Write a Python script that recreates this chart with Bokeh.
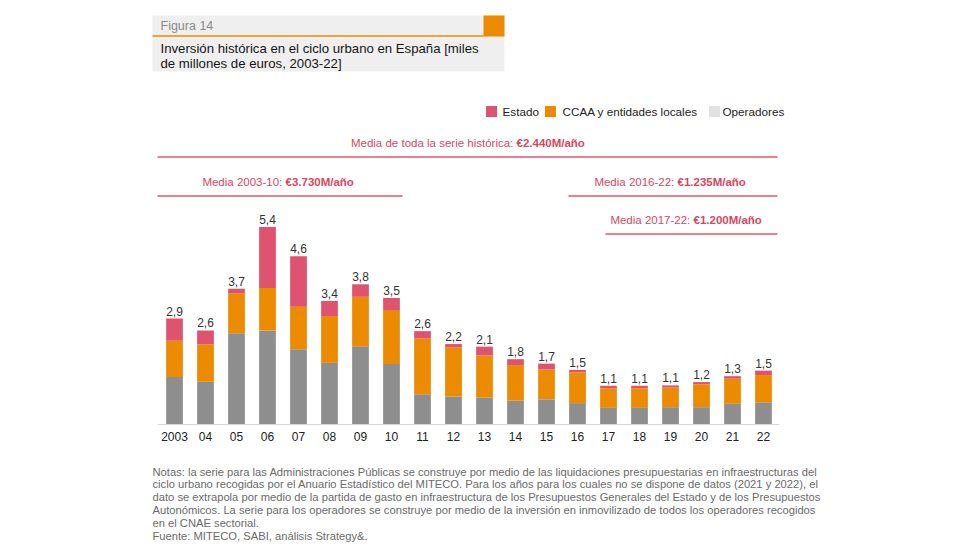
from bokeh.plotting import figure
from bokeh.models import Range1d, ColumnDataSource
from bokeh.core.properties import value
from bokeh.embed import file_html
from bokeh.resources import INLINE

# ---------------- data ----------------
years = ["2003", "04", "05", "06", "07", "08", "09", "10", "11", "12",
         "13", "14", "15", "16", "17", "18", "19", "20", "21", "22"]
operadores = [1.29, 1.16, 2.47, 2.55, 2.04, 1.67, 2.12, 1.64, 0.82, 0.76,
              0.73, 0.65, 0.68, 0.58, 0.45, 0.45, 0.47, 0.47, 0.56, 0.60]
ccaa = [0.98, 1.01, 1.09, 1.15, 1.15, 1.27, 1.34, 1.46, 1.51, 1.33,
        1.14, 0.96, 0.81, 0.83, 0.53, 0.53, 0.53, 0.62, 0.68, 0.74]
estado = [0.60, 0.38, 0.12, 1.65, 1.37, 0.41, 0.34, 0.33, 0.20, 0.09,
          0.24, 0.16, 0.16, 0.07, 0.07, 0.07, 0.06, 0.06, 0.07, 0.12]
total_labels = ["2,9", "2,6", "3,7", "5,4", "4,6", "3,4", "3,8", "3,5", "2,6", "2,2",
                "2,1", "1,8", "1,7", "1,5", "1,1", "1,1", "1,1", "1,2", "1,3", "1,5"]

legend_labels = ["Estado", "CCAA y entidades locales", "Operadores"]
media_labels = ["Media de toda la serie histórica: ", "Media 2003-10: ",
                "Media 2016-22: ", "Media 2017-22: "]
media_values = ["€2.440M/año", "€3.730M/año", "€1.235M/año", "€1.200M/año"]

fig_label = "Figura 14"
title_lines = ["Inversión histórica en el ciclo urbano en España [miles",
               "de millones de euros, 2003-22]"]
notes = [
    "Notas: la serie para las Administraciones Públicas se construye por medio de las liquidaciones presupuestarias en infraestructuras del",
    "ciclo urbano recogidas por el Anuario Estadístico del MITECO. Para los años para los cuales no se dispone de datos (2021 y 2022), el",
    "dato se extrapola por medio de la partida de gasto en infraestructura de los Presupuestos Generales del Estado y de los Presupuestos",
    "Autonómicos. La serie para los operadores se construye por medio de la inversión en inmovilizado de todos los operadores recogidos",
    "en el CNAE sectorial.",
    "Fuente: MITECO, SABI, análisis Strategy&.",
]

# ---------------- styles / layout ----------------
RED = "#de5470"
ORANGE = "#ec8b00"
GRAY = "#8e8e8e"
LEG_GRAY = "#e2e2e2"
PINK_TXT = "#d9475f"
PINK_LINE = "#dc5a6e"
FONT = value("Liberation Sans")

W, H = 964, 544
X0, DX = 174.0, 31.0      # page px of first bar centre, px per category
Y0, DY = 424.0, 36.9      # page px of baseline, px per unit


def X(px):
    return (px - X0) / DX


def Y(py):
    return (Y0 - py) / DY


p = figure(width=W, height=H, output_backend="svg", toolbar_location=None,
           x_range=Range1d(X(0), X(W)), y_range=Range1d(Y(H), Y(0)),
           x_axis_type=None, y_axis_type=None, min_border=0)
p.outline_line_color = None
p.background_fill_color = "white"
p.border_fill_color = "white"

idx = list(range(len(years)))
totals = [a + b + c for a, b, c in zip(operadores, ccaa, estado)]
src = ColumnDataSource(dict(x=idx, operadores=operadores, ccaa=ccaa, estado=estado,
                            total=totals, lab=total_labels, year=years))

p.vbar_stack(["operadores", "ccaa", "estado"], x="x", width=0.54, source=src,
             color=[GRAY, ORANGE, RED], line_color=None)

# baseline
p.segment(x0=[X(157)], y0=[0], x1=[X(779)], y1=[0], line_color="#d6d6d6", line_width=1)

# value labels
p.text(x="x", y="total", text="lab", source=src, text_font=FONT, text_font_size="12px",
       text_color="#333333", text_align="center", text_baseline="bottom", y_offset=-3)

# tick labels
p.text(x="x", y=0, text="year", source=src, text_font=FONT, text_font_size="12px",
       text_color="#222222", text_align="center", text_baseline="middle", y_offset=12)

# ---- header box ----
p.quad(left=[X(152)], right=[X(504)], top=[Y(15)], bottom=[Y(71)],
       fill_color="#efefef", line_color=None)
p.quad(left=[X(483)], right=[X(504)], top=[Y(15)], bottom=[Y(36)],
       fill_color=ORANGE, line_color=None)
p.segment(x0=[X(152)], y0=[Y(35.5)], x1=[X(483)], y1=[Y(35.5)],
          line_color=ORANGE, line_width=1.5)
p.text(x=[X(160)], y=[Y(25)], text=[fig_label], text_font=FONT, text_font_size="12.5px",
       text_color="#8a8a8a", text_baseline="middle")
p.text(x=[X(160)] * 2, y=[Y(47.5), Y(62.5)], text=title_lines, text_font=FONT,
       text_font_size="13.2px", text_color="#151515", text_baseline="middle")

# ---- legend ----
sw_x = [491, 550, 714]
tx_x = [502, 562, 722]
leg_cols = [RED, ORANGE, LEG_GRAY]
p.rect(x=[X(v) for v in sw_x], y=[Y(111)] * 3, width=11, height=11,
       width_units="screen", height_units="screen", fill_color=leg_cols, line_color=None)
p.text(x=[X(v) for v in tx_x], y=[Y(111)] * 3, text=legend_labels, text_font=FONT,
       text_font_size="11.7px", text_color="#222222", text_baseline="middle")

# ---- mean annotations ----
split_x = [516, 285, 677, 693]
text_y = [142, 181, 181, 219]
line_x0 = [157, 157, 568, 605]
line_x1 = [777, 402, 777, 777]
line_y = [156.5, 195.5, 195.5, 233.5]
p.text(x=[X(v) for v in split_x], y=[Y(v) for v in text_y], text=media_labels,
       text_font=FONT, text_font_size="11.5px", text_color=PINK_TXT,
       text_align="right", text_baseline="middle")
p.text(x=[X(v) for v in split_x], y=[Y(v) for v in text_y], text=media_values,
       text_font=FONT, text_font_size="11.5px", text_font_style="bold",
       text_color=PINK_TXT, text_align="left", text_baseline="middle")
p.segment(x0=[X(v) for v in line_x0], y0=[Y(v) for v in line_y],
          x1=[X(v) for v in line_x1], y1=[Y(v) for v in line_y],
          line_color=PINK_LINE, line_width=1.3)

# ---- notes ----
p.text(x=[X(152)] * len(notes), y=[Y(471 + 12.8 * i) for i in range(len(notes))],
       text=notes, text_font=FONT, text_font_size="11.2px", text_color="#6a6a6a",
       text_baseline="middle")

open("out.html", "w").write(file_html(p, INLINE))
